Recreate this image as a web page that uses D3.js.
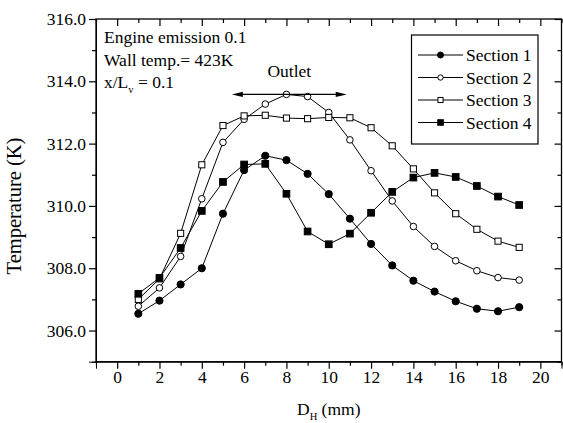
<!DOCTYPE html>
<html>
<head>
<meta charset="utf-8">
<script src="https://cdn.jsdelivr.net/npm/d3@7"></script>
<style>
	body { margin: 0; background: #fff; }
</style>
</head>
<body>
<svg></svg>
<script>
/* 
data 
*/ 

var positions = [1, 2, 3, 4, 5, 6, 7, 8, 9, 10, 11, 12, 13, 14, 15, 16, 17, 18, 19]; 
var section1 = [306.54, 306.96, 307.48, 308.0, 309.75, 311.15, 311.61, 311.47, 311.03, 310.38, 309.59, 308.78, 308.09, 307.60, 307.25, 306.94, 306.70, 306.62, 306.75]; 
var section2 = [306.78, 307.37, 308.38, 310.23, 312.04, 312.78, 313.27, 313.58, 313.51, 313.0, 312.12, 311.13, 310.16, 309.34, 308.70, 308.24, 307.92, 307.70, 307.62]; 
var section3 = [307.0, 307.66, 309.12, 311.32, 312.58, 312.89, 312.91, 312.82, 312.80, 312.84, 312.83, 312.51, 311.93, 311.19, 310.42, 309.75, 309.25, 308.87, 308.67]; 
var section4 = [307.18, 307.69, 308.65, 309.84, 310.77, 311.33, 311.35, 310.39, 309.18, 308.77, 309.11, 309.78, 310.45, 310.91, 311.06, 310.93, 310.64, 310.30, 310.03]; 
var seriesNames = ['Section 1', 'Section 2', 'Section 3', 'Section 4']; 
var markers = ['filledCircle', 'openCircle', 'openSquare', 'filledSquare']; 

var xTicks = [0, 2, 4, 6, 8, 10, 12, 14, 16, 18, 20]; 
var yTicks = [306, 308, 310, 312, 314, 316]; 
var notes = ['Engine emission 0.1', 'Wall temp.= 423K']; 
var outletRange = [5.42, 10.85]; 
var outletLevel = 313.58; 

/* 
pick a Times-like font that is actually installed 
*/ 

function pickFont(list) { 
	var ctx = document.createElement('canvas').getContext('2d'); 
	var probe = 'Wg316.0 Section mmTK'; 
	var bases = ['monospace', 'sans-serif']; 
	var widths = bases.map(function(b) { ctx.font = '40px ' + b; return ctx.measureText(probe).width; }); 
	for (var i = 0; i < list.length; i++) { 
		for (var j = 0; j < bases.length; j++) { 
			ctx.font = '40px "' + list[i] + '", ' + bases[j]; 
			if (Math.abs(ctx.measureText(probe).width - widths[j]) > 0.5) return '"' + list[i] + '"'; 
		} 
	} 
	return 'serif'; 
} 
var serifFont = pickFont(['Liberation Serif', 'Times New Roman', 'Tinos', 'Nimbus Roman', 'FreeSerif', 'DejaVu Serif', 'Noto Serif']); 

/* 
create svg window 
*/ 

var svgWidth = 563; 
var svgHeight = 423; 

var margin = { top: 19, right: 1.5, bottom: 61.3, left: 96 }; 

var svg = d3.select('svg')
	.attr('width', svgWidth)
	.attr('height', svgHeight)
	.attr('font-family', serifFont); 

var x = d3.scaleLinear()
	.domain([-1, 21])
	.range([margin.left, svgWidth - margin.right]); 

var y = d3.scaleLinear()
	.domain([305, 316])
	.range([svgHeight - margin.bottom, margin.top]); 

var fontSize = 17.5; 

/* 
axes: outward ticks on bottom / left, inward ticks on top / right 
*/ 

var minorX = d3.range(-1, 22, 1).filter(d => xTicks.indexOf(d) < 0); 
var minorY = d3.range(305, 317, 1).filter(d => yTicks.indexOf(d) < 0); 

svg.append('g')
	.attr('transform', 'translate(0,' + y(305) + ')')
	.call(d3.axisBottom(x).tickValues(xTicks).tickSize(7).tickPadding(2).tickFormat(d3.format('d')))
	.call(g => g.attr('font-family', serifFont).attr('font-size', fontSize)); 

svg.append('g')
	.attr('transform', 'translate(0,' + y(305) + ')')
	.call(d3.axisBottom(x).tickValues(minorX).tickSize(4).tickFormat(''))
	.call(g => g.select('.domain').remove()); 

svg.append('g')
	.attr('transform', 'translate(0,' + y(316) + ')')
	.call(d3.axisBottom(x).tickValues(xTicks).tickSize(7).tickFormat(''))
	.call(g => g.select('.domain').remove()); 

svg.append('g')
	.attr('transform', 'translate(0,' + y(316) + ')')
	.call(d3.axisBottom(x).tickValues(minorX).tickSize(4).tickFormat(''))
	.call(g => g.select('.domain').remove()); 

svg.append('g')
	.attr('transform', 'translate(' + x(-1) + ',0)')
	.call(d3.axisLeft(y).tickValues(yTicks).tickSize(7).tickPadding(3).tickFormat(d3.format('.1f')))
	.call(g => g.attr('font-family', serifFont).attr('font-size', fontSize)); 

svg.append('g')
	.attr('transform', 'translate(' + x(-1) + ',0)')
	.call(d3.axisLeft(y).tickValues(minorY).tickSize(4).tickFormat(''))
	.call(g => g.select('.domain').remove()); 

svg.append('g')
	.attr('transform', 'translate(' + x(21) + ',0)')
	.call(d3.axisLeft(y).tickValues(yTicks).tickSize(7).tickFormat(''))
	.call(g => g.select('.domain').remove()); 

svg.append('g')
	.attr('transform', 'translate(' + x(21) + ',0)')
	.call(d3.axisLeft(y).tickValues(minorY).tickSize(4).tickFormat(''))
	.call(g => g.select('.domain').remove()); 

// frame 
svg.append('rect')
	.attr('x', x(-1))
	.attr('y', y(316))
	.attr('width', x(21) - x(-1))
	.attr('height', y(305) - y(316))
	.attr('fill', 'none')
	.attr('stroke', '#000')
	.attr('stroke-width', 1.3); 

svg.selectAll('.tick line').attr('stroke-width', 1.2); 

/* 
axis titles 
*/ 

var xTitle = svg.append('text')
	.attr('x', (x(-1) + x(21)) / 2)
	.attr('y', 415)
	.attr('text-anchor', 'middle')
	.attr('font-size', fontSize); 
xTitle.append('tspan').text('D'); 
xTitle.append('tspan').attr('font-size', 10.5).attr('dy', 5).text('H'); 
xTitle.append('tspan').attr('dy', -5).text(' (mm)'); 

svg.append('text')
	.attr('transform', 'translate(21,' + 206 + ') rotate(-90)')
	.attr('text-anchor', 'middle')
	.attr('font-size', 20.5)
	.text('Temperature (K)'); 

/* 
the lines and markers 
*/ 

var allSeries = [section1, section2, section3, section4]; 

var line = d3.line()
	.x(function(d, i) { return x(positions[i]); })
	.y(function(d) { return y(d); }); 

function drawMarker(g, kind, cx, cy, big) { 
	var r = big ? 3.6 : 3; 
	if (kind == 'filledCircle' || kind == 'openCircle') { 
		g.append('circle')
			.attr('cx', cx).attr('cy', cy)
			.attr('r', kind == 'filledCircle' ? r : r - 0.3)
			.attr('fill', kind == 'filledCircle' ? '#000' : '#fff')
			.attr('stroke', '#000')
			.attr('stroke-width', 1); 
	} else { 
		var s = kind == 'filledSquare' ? r * 1.85 : r * 1.7; 
		g.append('rect')
			.attr('x', cx - s / 2).attr('y', cy - s / 2)
			.attr('width', s).attr('height', s)
			.attr('fill', kind == 'filledSquare' ? '#000' : '#fff')
			.attr('stroke', '#000')
			.attr('stroke-width', 1); 
	} 
} 

allSeries.forEach(function(values, k) { 
	svg.append('path')
		.datum(values)
		.attr('fill', 'none')
		.attr('stroke', '#000')
		.attr('stroke-width', 1)
		.attr('d', line); 
	var g = svg.append('g'); 
	values.forEach(function(v, i) { 
		drawMarker(g, markers[k], x(positions[i]), y(v), true); 
	}); 
}); 

/* 
legend 
*/ 

var legend = svg.append('g'); 
legend.append('rect')
	.attr('x', 411.5).attr('y', 35)
	.attr('width', 126.5).attr('height', 109)
	.attr('fill', '#fff')
	.attr('stroke', '#000')
	.attr('stroke-width', 1.2); 

seriesNames.forEach(function(name, k) { 
	var ly = 55 + k * 22.5; 
	legend.append('line')
		.attr('x1', 418).attr('x2', 463)
		.attr('y1', ly).attr('y2', ly)
		.attr('stroke', '#000')
		.attr('stroke-width', 1); 
	drawMarker(legend, markers[k], 440.5, ly, false); 
	legend.append('text')
		.attr('x', 466)
		.attr('y', ly + 6)
		.attr('font-size', fontSize)
		.text(name); 
}); 

/* 
annotations 
*/ 

notes.forEach(function(t, i) { 
	svg.append('text')
		.attr('x', 104)
		.attr('y', 43 + i * 22.5)
		.attr('font-size', fontSize)
		.text(t); 
}); 

var note3 = svg.append('text')
	.attr('x', 104)
	.attr('y', 88)
	.attr('font-size', fontSize); 
note3.append('tspan').text('x/L'); 
note3.append('tspan').attr('font-size', 10.5).attr('dy', 5).text('v'); 
note3.append('tspan').attr('dy', -5).text(' = 0.1'); 

svg.append('text')
	.attr('x', x((outletRange[0] + outletRange[1]) / 2))
	.attr('y', 77)
	.attr('text-anchor', 'middle')
	.attr('font-size', fontSize)
	.text('Outlet'); 

var ax0 = x(outletRange[0]), ax1 = x(outletRange[1]), ay = y(outletLevel); 
svg.append('line')
	.attr('x1', ax0 + 6).attr('x2', ax1 - 6)
	.attr('y1', ay).attr('y2', ay)
	.attr('stroke', '#000')
	.attr('stroke-width', 1.3); 
svg.append('path')
	.attr('d', 'M' + ax0 + ',' + ay + 'L' + (ax0 + 11) + ',' + (ay - 2.6) + 'L' + (ax0 + 11) + ',' + (ay + 2.6) + 'Z'
		+ 'M' + ax1 + ',' + ay + 'L' + (ax1 - 11) + ',' + (ay - 2.6) + 'L' + (ax1 - 11) + ',' + (ay + 2.6) + 'Z')
	.attr('fill', '#000'); 
</script>
</body>
</html>
